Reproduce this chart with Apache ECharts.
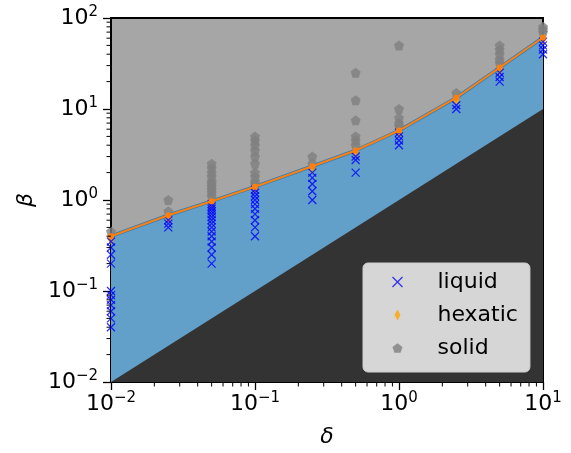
<!DOCTYPE html>
<html>
<head>
<meta charset="utf-8">
<script src="https://cdn.jsdelivr.net/npm/echarts@6/dist/echarts.min.js"></script>
<style>html,body{margin:0;padding:0;background:#fff}#c{width:571px;height:453px}</style>
</head>
<body>
<div id="c"></div>
<script>
// ---- data ----
var deltas = [0.01, 0.025, 0.05, 0.1, 0.25, 0.5, 1, 2.5, 5, 10];
var boundary = [0.4, 0.68, 0.97, 1.4, 2.35, 3.5, 5.8, 13.3, 28.5, 61];
var diagX = [0.01, 10];
var diagY = [0.01, 10];
var liquidValues = [
  [0.04, 0.05, 0.06, 0.07, 0.08, 0.09, 0.1, 0.2, 0.25, 0.3, 0.35],
  [0.5, 0.55, 0.6],
  [0.2, 0.25, 0.3, 0.35, 0.4, 0.45, 0.5, 0.55, 0.6, 0.65, 0.7, 0.75, 0.8, 0.85, 0.9],
  [0.4, 0.5, 0.6, 0.7, 0.8, 0.9, 1.0, 1.1, 1.2, 1.3],
  [1, 1.25, 1.5, 1.75, 2],
  [2, 2.75, 3],
  [4, 4.5, 5, 5.5],
  [10, 11],
  [20, 22.5, 25],
  [40, 45, 50, 55]
];
var hexaticValues = [0.37, 0.63, 0.92, 1.35, 2.2, 3.3, 5.5, 12.5, 27, 58];
var solidValues = [
  [0.45],
  [0.75, 1.0],
  [1.1, 1.2, 1.3, 1.4, 1.5, 1.6, 1.8, 2.0, 2.25, 2.5],
  [1.5, 1.6, 1.8, 2.0, 2.5, 3.0, 3.5, 4.0, 4.5, 5.0],
  [2.5, 3.0],
  [4, 4.5, 5, 7.5, 12.5, 25],
  [6.5, 7, 8, 10, 50],
  [15],
  [32, 35, 40, 45, 50],
  [70, 75, 80]
];
var xMinorTicks = [0.02,0.03,0.04,0.05,0.06,0.07,0.08,0.09,0.2,0.3,0.4,0.5,0.6,0.7,0.8,0.9,2,3,4,5,6,7,8,9];
var yMinorTicks = [0.02,0.03,0.04,0.05,0.06,0.07,0.08,0.09,0.2,0.3,0.4,0.5,0.6,0.7,0.8,0.9,2,3,4,5,6,7,8,9,20,30,40,50,60,70,80,90];

// ---- build ----
function pairs(vals) {
  var out = [];
  for (var i = 0; i < deltas.length; i++) for (var j = 0; j < vals[i].length; j++) out.push([deltas[i], vals[i][j]]);
  return out;
}
var boundaryData = deltas.map(function (d, i) { return [d, boundary[i]]; });
var diagData = diagX.map(function (d, i) { return [d, diagY[i]]; });
var hexData = deltas.map(function (d, i) { return [d, hexaticValues[i]]; });
function fmt(v) {
  var e = Math.round(Math.log(v) / Math.LN10);
  var s = String(e).replace('-', '\u2212');
  return '10{s|' + s + '}';
}
var FONT = 'DejaVu Sans';
var rich = { s: { fontSize: 15, fontFamily: FONT, color: '#000', padding: [0, 0, 11, 0] } };
var xPath = 'path://M0 0L10 10M10 0L0 10';
var pentPath = 'path://M0,-1L0.951,-0.309L0.588,0.809L-0.588,0.809L-0.951,-0.309Z';
var diamPath = 'path://M0,-1L0.55,0L0,1L-0.55,0Z';

var chart = echarts.init(document.getElementById('c'), null, { renderer: 'canvas' });
chart.setOption({
  animation: false,
  textStyle: { fontFamily: FONT },
  grid: { left: 111, top: 18, right: 28, bottom: 71, show: true, backgroundColor: '#a6a6a6', borderColor: '#000', borderWidth: 2 },
  xAxis: {
    type: 'log', logBase: 10, min: 0.01, max: 10, interval: 1,
    name: 'δ', nameLocation: 'middle', nameGap: 44,
    nameTextStyle: { fontSize: 22, fontStyle: 'italic', fontFamily: FONT, color: '#000' },
    axisLine: { lineStyle: { color: '#000', width: 2 } },
    axisTick: { length: 8, lineStyle: { color: '#000', width: 1.3 } },
    splitLine: { show: false },
    axisLabel: { margin: 9, fontSize: 22, color: '#000', fontFamily: FONT, formatter: fmt, rich: rich }
  },
  yAxis: {
    type: 'log', logBase: 10, min: 0.01, max: 100, interval: 1,
    name: 'β', nameLocation: 'middle', nameGap: 72,
    nameTextStyle: { fontSize: 22, fontStyle: 'italic', fontFamily: FONT, color: '#000' },
    axisLine: { lineStyle: { color: '#000', width: 2 } },
    axisTick: { length: 8, lineStyle: { color: '#000', width: 1.3 } },
    splitLine: { show: false },
    axisLabel: { margin: 13, fontSize: 22, color: '#000', fontFamily: FONT, formatter: fmt, rich: rich }
  },
  legend: {
    orient: 'vertical', left: 363, top: 263,
    padding: [8, 12, 13, 27],
    itemWidth: 10, itemHeight: 11, itemGap: 11,
    backgroundColor: '#d6d6d6', borderColor: '#cfcfcf', borderWidth: 1, borderRadius: 5,
    textStyle: { fontSize: 22, lineHeight: 22, color: '#000', fontFamily: FONT, padding: [0, 0, 0, 30] },
    data: [
      { name: 'liquid', icon: xPath, itemStyle: { color: 'none', borderColor: '#0000ff', borderWidth: 1.2 } },
      { name: 'hexatic', icon: diamPath },
      { name: 'solid', icon: pentPath }
    ]
  },
  series: [
    { type: 'line', name: 'fluidRegion', data: boundaryData, symbol: 'none', z: 1,
      lineStyle: { color: '#2f7fb8', width: 3.5 },
      areaStyle: { color: '#62a0ca', opacity: 1, origin: 'start' } },
    { type: 'line', name: 'forbidden', data: diagData, symbol: 'none', z: 2,
      lineStyle: { width: 0 },
      areaStyle: { color: '#333333', opacity: 1, origin: 'start' } },
    { type: 'scatter', name: 'hexatic', data: hexData, symbol: diamPath, symbolSize: [7, 11], z: 3,
      itemStyle: { color: '#ffa500' } },
    { type: 'scatter', name: 'liquid', data: pairs(liquidValues), symbol: xPath, symbolSize: 8, z: 4,
      itemStyle: { color: 'none', borderColor: '#0000ff', borderWidth: 1.3 } },
    { type: 'scatter', name: 'solid', data: pairs(solidValues), symbol: pentPath, symbolSize: 10, z: 3,
      itemStyle: { color: '#808080' } },
    { type: 'line', name: 'boundary', data: boundaryData, symbol: 'circle', symbolSize: 6, z: 5,
      lineStyle: { color: '#ff7f0e', width: 2 }, itemStyle: { color: '#ff7f0e' } },
    { type: 'custom', name: 'xminor', z: 6, silent: true, clip: false,
      data: xMinorTicks.map(function (v) { return [v, 0.01]; }),
      renderItem: function (params, api) {
        var p = api.coord([api.value(0), api.value(1)]);
        return { type: 'line', shape: { x1: p[0], y1: p[1], x2: p[0], y2: p[1] + 4.5 }, style: { stroke: '#000', lineWidth: 1 } };
      } },
    { type: 'custom', name: 'yminor', z: 6, silent: true, clip: false,
      data: yMinorTicks.map(function (v) { return [0.01, v]; }),
      renderItem: function (params, api) {
        var p = api.coord([api.value(0), api.value(1)]);
        return { type: 'line', shape: { x1: p[0], y1: p[1], x2: p[0] - 4.5, y2: p[1] }, style: { stroke: '#000', lineWidth: 1 } };
      } }
  ]
});
</script>
</body>
</html>
